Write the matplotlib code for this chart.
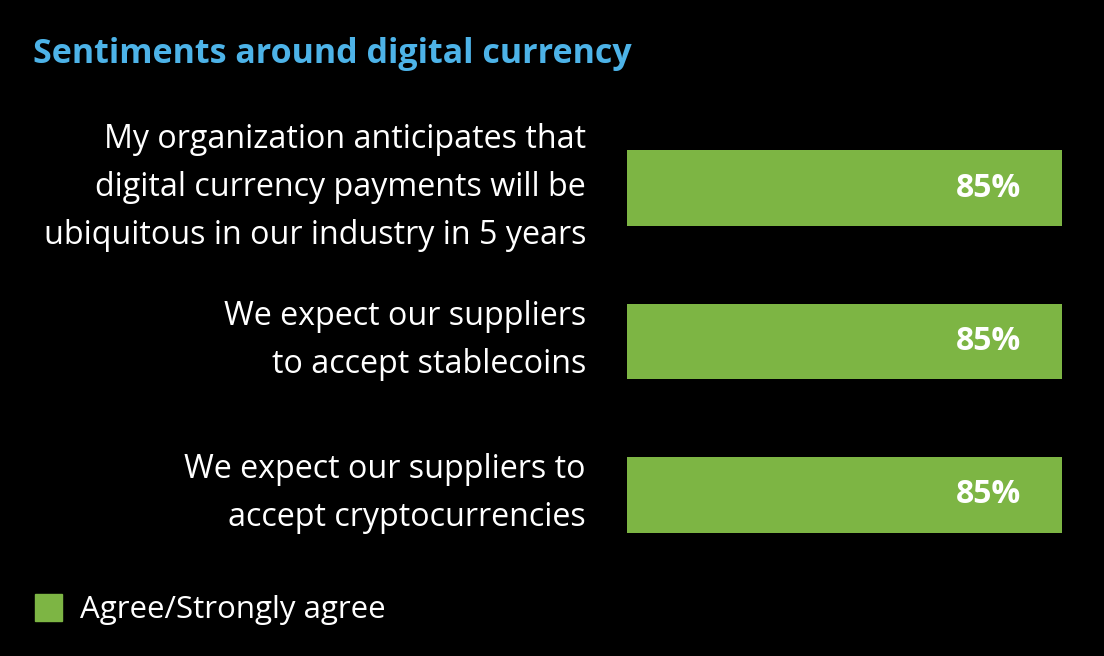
import matplotlib
matplotlib.use('Agg')
import matplotlib.pyplot as plt
from matplotlib.patches import Rectangle
from matplotlib.transforms import ScaledTranslation

# Données
statements = [
    "My organization anticipates that\ndigital currency payments will be\nubiquitous in our industry in 5 years",
    "We expect our suppliers\nto accept stablecoins",
    "We expect our suppliers to\naccept cryptocurrencies",
]
agree = [85, 85, 85]
legend_label = "Agree/Strongly agree"
title = "Sentiments around digital currency"

green = '#7db544'
blue = '#4db3e8'

plt.rcParams['font.family'] = ['Open Sans', 'DejaVu Sans']

fig = plt.figure(figsize=(11.04, 6.56), dpi=100, facecolor='black')
W, H = 1104, 656
ax = fig.add_axes([627 / W, (656 - 533) / H, (1062 - 627) / W, 383 / H])
ax.set_facecolor('black')

pos = list(range(len(statements)))
ax.barh(pos, agree, height=0.495, color=green)
for p, v in zip(pos, agree):
    ax.text(v - 14.3, p, f"{v}%", color='white', fontsize=23, fontweight='bold',
            ha='center', va='center')

# libellés à gauche des barres
label_tr = ax.get_yaxis_transform() + ScaledTranslation(-0.41, 0.01, fig.dpi_scale_trans)
for p, s in zip(pos, statements):
    ax.text(0, p, s, transform=label_tr, color='white', fontsize=23.2,
            linespacing=1.6, ha='right', va='center', multialignment='right')

ax.set_xlim(0, max(agree))
ax.set_ylim(2.2476, -0.2476)
ax.set_xticks([])
ax.set_yticks([])
for s in ax.spines.values():
    s.set_visible(False)

# Titre
fig.text(33 / W, 1 - 54 / H, title, color=blue, fontsize=24.5, fontweight='bold',
         ha='left', va='center')

# Légende
fig.patches.append(Rectangle((35 / W, 1 - 621 / H), 27 / W, 27 / H,
                             transform=fig.transFigure, color=green))
fig.text(80 / W, 1 - 610 / H, legend_label, color='white', fontsize=22.5,
         ha='left', va='center')

fig.savefig('out.png', dpi=100, facecolor='black')
